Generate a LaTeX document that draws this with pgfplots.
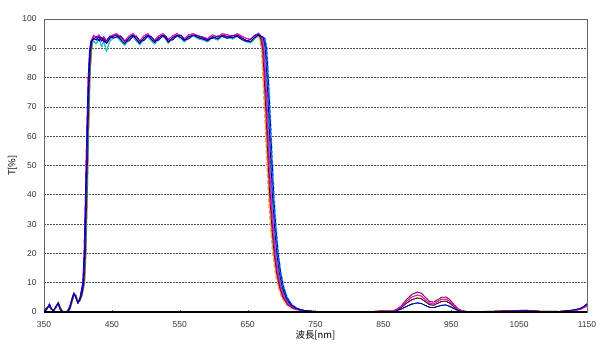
\documentclass[border=0pt]{standalone}
\usepackage{fontspec}
\setmainfont{Liberation Sans}
\newfontfamily\cjk{Noto Sans CJK JP}
\usepackage{pgfplots}
\pgfplotsset{compat=1.18}
\definecolor{cNavy}{HTML}{000080}
\definecolor{cMag}{HTML}{FF00FF}
\definecolor{cCyan}{HTML}{00D8E0}
\definecolor{cPurp}{HTML}{800080}
\definecolor{cDRed}{HTML}{800000}
\definecolor{cTeal}{HTML}{008080}
\definecolor{cBlue}{HTML}{0000FF}
\definecolor{cGreen}{HTML}{339966}
\definecolor{cOrange}{HTML}{FF9900}
\definecolor{cTan}{HTML}{D2B48C}
\definecolor{cLav}{HTML}{CC99FF}
\definecolor{cRed}{HTML}{FF0000}
\definecolor{cSky}{HTML}{33CCFF}
\definecolor{cRose}{HTML}{FF99CC}
\begin{document}
\begin{tikzpicture}
\useasboundingbox (-44bp,-37bp) rectangle (564bp,312bp);
\begin{axis}[
 scale only axis, width=543bp, height=293bp,
 xmin=350, xmax=1150, ymin=0, ymax=100,
 xtick={350,450,...,1150}, ytick={0,10,...,100},
 ymajorgrids, major grid style={dash pattern=on 1.5bp off 1.5bp, black!70, line width=0.6bp},
 axis line style={black!60, line width=0.8bp},
 xtick pos=bottom, xtick align=inside, ytick style={draw=none},
 xtick style={black!60}, major tick length=2.5bp,
 tick label style={font=\fontsize{8.5}{10}\selectfont, text=black!80},
 /pgf/number format/assume math mode=true,
 /pgf/number format/1000 sep={},
 xticklabel style={anchor=center, yshift=-13bp},
 yticklabel style={xshift=-4bp},
 xlabel={\cjk 波長[nm]}, ylabel={\cjk T[\%]},
 xlabel style={at={(axis description cs:0.5,-0.0785)}, anchor=center, font=\fontsize{9.5}{11}\selectfont},
 ylabel style={at={(axis description cs:-0.058,0.5)}, anchor=center, font=\fontsize{9.5}{11}\selectfont},
 every axis plot/.append style={line width=0.75bp, line join=round},
]
% S14 rose: R-1 P1 F0 Nm
\addplot[cRose] coordinates {(350,0)(354,0.8)(358,2.8)(361,1.2)(364,0.2)(368,2.2)(371,2.6)(374,0.8)(377,0)(381,0)(385,0.5)(388,2)(391,4.5)(394,6.6)(397,4.8)(400,3)(403,5)(405,7.5)(407,10)(409,20)(411,40)(413,62)(415,80)(417,89)(419,92.5)
(423,92.5)(427,91.5)(431,93.5)(435,90.5)(438,92.5)(442,89)(447,92.5)(452,93.5)(457,94)(463,92.5)(469,91)(475,93)(481,94)(486,92.5)(491,91.2)(497,93)(503,94)(508,92.6)(513,91.5)(519,93.2)(525,94.2)(529,93.2)(533,91.8)(539,93.2)(546,94.2)(552,93.2)(557,92.2)(563,93.6)(570,94.2)(578,93.2)(585,92.8)(591,92.2)(598,93.6)(606,92.8)(613,94.2)(620,93.6)(628,93.2)(635,94.2)(641,93.2)(648,92.2)(654,91.8)(660,93.2)(666,94.2)
(670,93.5)(673,90)(675,82)(678,68)(681,52)(684,38)(687,28)(690,20)(694,13)(698,8.5)(703,5)(710,2.5)(718,1.2)(730,0.5)(750,0.1)(780,0)
(820,0)(850,0.3)(860,0.3)(868,0.6)(876,1.8)(884,3.6)(892,5.1)(900,5.8)(906,5.4)(912,4.2)(918,3)(924,2.8)(930,3.6)(936,4.3)(942,4.4)(948,3.6)(954,2.1)(960,1)(966,0.35)(975,0.1)(1000,0.1)(1040,0.4)(1060,0.5)(1080,0.2)(1110,0.2)(1130,0.5)(1140,0.9)(1146,1.6)(1150,2.3)};
% S10 tan dashed: R+1 P0 F-3 Nh
\addplot[cTan, line width=1.4bp, dash pattern=on 4bp off 2bp] coordinates {(350,0.5)(354,1.5)(358,1.8)(361,0.8)(364,0.6)(368,1.5)(371,3.4)(374,1.5)(377,0.3)(381,0)(385,0)(388,1)(391,3.5)(394,5.8)(397,5.5)(400,3.2)(403,4)(406,6)(409,10)(411,20)(413,40)(415,62)(417,80)(419,89)(421,92.5)
(423,93.5)(427,92.8)(431,94)(435,92.5)(438,93.4)(442,91.6)(447,93.4)(452,94.1)(457,94.5)(463,93)(469,91.6)(475,93.5)(481,94.5)(486,93.1)(491,91.7)(497,93.5)(503,94.5)(508,93.1)(513,92)(519,93.6)(525,94.5)(529,93.6)(533,92.1)(539,93.6)(546,94.5)(552,93.6)(557,92.6)(563,94)(570,94.5)(578,93.6)(585,93.1)(591,92.6)(598,94)(606,93.2)(613,94.5)(620,94)(628,93.6)(635,94.5)(641,93.6)(648,92.7)(654,92.2)(660,93.6)(666,94.6)
(667,93.5)(670,90)(672,82)(675,68)(678,52)(681,38)(684,28)(687,20)(691,13)(695,8.5)(700,5)(707,2.5)(715,1.2)(727,0.5)(750,0.1)(780,0)
(820,0)(850,0.4)(860,0.2)(868,0.7)(876,2)(884,4.2)(892,6)(900,6.8)(906,6.4)(912,5)(918,3.6)(924,3.4)(930,4.2)(936,5)(942,5.1)(948,4.2)(954,2.5)(960,1.1)(966,0.4)(975,0.1)(1000,0.2)(1040,0.5)(1060,0.6)(1080,0.3)(1110,0.2)(1130,0.5)(1140,0.9)(1146,1.5)(1150,2.2)};
% S11 lavender: R+2 P1 F-2 Nm
\addplot[cLav] coordinates {(350,0.2)(354,1.2)(358,2)(361,1.4)(364,0.3)(368,1.8)(371,3.2)(374,1.2)(377,0.1)(381,0)(385,0)(388,0.8)(391,3)(394,5.5)(397,6)(400,3.5)(403,3.8)(406,5.5)(408,7.5)(410,10)(412,20)(414,40)(416,62)(418,80)(420,89)(422,92.5)
(423,92.5)(427,91.5)(431,93.5)(435,90.5)(438,92.5)(442,89)(447,92.5)(452,93.5)(457,94)(463,92.5)(469,91)(475,93)(481,94)(486,92.5)(491,91.2)(497,93)(503,94)(508,92.6)(513,91.5)(519,93.2)(525,94.2)(529,93.2)(533,91.8)(539,93.2)(546,94.2)(552,93.2)(557,92.2)(563,93.6)(570,94.2)(578,93.2)(585,92.8)(591,92.2)(598,93.6)(606,92.8)(613,94.2)(620,93.6)(628,93.2)(635,94.2)(641,93.2)(648,92.2)(654,91.8)(660,93.2)(666,94.2)
(668,93.5)(671,90)(673,82)(676,68)(679,52)(682,38)(685,28)(688,20)(692,13)(696,8.5)(701,5)(708,2.5)(716,1.2)(728,0.5)(750,0.1)(780,0)
(820,0)(850,0.3)(860,0.3)(868,0.6)(876,1.8)(884,3.6)(892,5.1)(900,5.8)(906,5.4)(912,4.2)(918,3)(924,2.8)(930,3.6)(936,4.3)(942,4.4)(948,3.6)(954,2.1)(960,1)(966,0.35)(975,0.1)(1000,0.1)(1040,0.4)(1060,0.5)(1080,0.2)(1110,0.2)(1130,0.5)(1140,0.9)(1146,1.6)(1150,2.3)};
% S9 orange: R0 P3 F-2 Nh
\addplot[cOrange] coordinates {(350,0.3)(354,1)(358,2.4)(361,1)(364,0.4)(368,2)(371,3)(374,1)(377,0.2)(381,0)(385,0.2)(388,1.5)(391,4)(394,6.3)(397,5)(400,3)(403,4.5)(406,7)(408,10)(410,20)(412,40)(414,62)(416,80)(418,89)(420,92.5)
(423,93)(427,94)(431,92.5)(435,93.8)(438,92.2)(442,92.5)(447,94.2)(452,93.5)(457,93.8)(463,94.2)(469,92.5)(475,92.5)(481,94)(486,94.2)(491,92.5)(497,92.6)(503,94.2)(508,94)(513,92.5)(519,92.8)(525,94.2)(529,94.2)(533,92.8)(539,92.8)(546,94.2)(552,94.5)(557,93)(563,93.2)(570,94.5)(578,94.2)(585,93.5)(591,93)(598,93.4)(606,94.2)(613,94)(620,93.4)(628,94.4)(635,94)(641,93)(648,92.4)(654,93)(660,94.4)(666,94.8)
(668,93.5)(671,90)(673,82)(676,68)(679,52)(682,38)(685,28)(688,20)(692,13)(696,8.5)(701,5)(708,2.5)(716,1.2)(728,0.5)(750,0.1)(780,0)
(820,0)(850,0.4)(860,0.2)(868,0.7)(876,2)(884,4.2)(892,6)(900,6.8)(906,6.4)(912,5)(918,3.6)(924,3.4)(930,4.2)(936,5)(942,5.1)(948,4.2)(954,2.5)(960,1.1)(966,0.4)(975,0.1)(1000,0.2)(1040,0.5)(1060,0.6)(1080,0.3)(1110,0.2)(1130,0.5)(1140,0.9)(1146,1.5)(1150,2.2)};
% S13 sky dashed: R+1 P0 F+6 Nl
\addplot[cSky, dash pattern=on 3bp off 1.5bp] coordinates {(350,0.5)(354,1.5)(358,1.8)(361,0.8)(364,0.6)(368,1.5)(371,3.4)(374,1.5)(377,0.3)(381,0)(385,0)(388,1)(391,3.5)(394,5.8)(397,5.5)(400,3.2)(403,4)(406,6)(409,10)(411,20)(413,40)(415,62)(417,80)(419,89)(421,92.5)
(423,93.5)(427,92.8)(431,94)(435,92.5)(438,93.4)(442,91.6)(447,93.4)(452,94.1)(457,94.5)(463,93)(469,91.6)(475,93.5)(481,94.5)(486,93.1)(491,91.7)(497,93.5)(503,94.5)(508,93.1)(513,92)(519,93.6)(525,94.5)(529,93.6)(533,92.1)(539,93.6)(546,94.5)(552,93.6)(557,92.6)(563,94)(570,94.5)(578,93.6)(585,93.1)(591,92.6)(598,94)(606,93.2)(613,94.5)(620,94)(628,93.6)(635,94.5)(641,93.6)(648,92.7)(654,92.2)(660,93.6)(666,94.6)
(676,93.5)(679,90)(681,82)(684,68)(687,52)(690,38)(693,28)(696,20)(700,13)(704,8.5)(709,5)(716,2.5)(724,1.2)(736,0.5)(756,0.1)(780,0)
(820,0)(850,0.2)(860,0.1)(868,0.3)(876,1)(884,1.9)(892,2.7)(900,3.1)(906,2.9)(912,2.2)(918,1.6)(924,1.5)(930,1.9)(936,2.3)(942,2.4)(948,1.9)(954,1.2)(960,0.5)(966,0.2)(975,0)(1000,0.1)(1040,0.3)(1060,0.4)(1080,0.2)(1110,0.1)(1130,0.7)(1140,1.2)(1146,2)(1150,2.8)};
% S8 green: R+2 P2 F+2 Nm
\addplot[cGreen] coordinates {(350,0.2)(354,1.2)(358,2)(361,1.4)(364,0.3)(368,1.8)(371,3.2)(374,1.2)(377,0.1)(381,0)(385,0)(388,0.8)(391,3)(394,5.5)(397,6)(400,3.5)(403,3.8)(406,5.5)(408,7.5)(410,10)(412,20)(414,40)(416,62)(418,80)(420,89)(422,92.5)
(423,94.5)(427,93.5)(431,94.6)(435,93.2)(438,94)(442,92.5)(447,94)(452,94.6)(457,95)(463,93.8)(469,92.4)(475,94.2)(481,95)(486,93.8)(491,92.5)(497,94.2)(503,95)(508,93.8)(513,92.8)(519,94.2)(525,95)(529,94.2)(533,93)(539,94.2)(546,95)(552,94.2)(557,93.3)(563,94.6)(570,95)(578,94.2)(585,93.8)(591,93.3)(598,94.6)(606,93.8)(613,95)(620,94.6)(628,94.2)(635,95)(641,94.2)(648,93.4)(654,93)(660,94.2)(666,95.2)
(672,93.5)(675,90)(677,82)(680,68)(683,52)(686,38)(689,28)(692,20)(696,13)(700,8.5)(705,5)(712,2.5)(720,1.2)(732,0.5)(752,0.1)(780,0)
(820,0)(850,0.3)(860,0.3)(868,0.6)(876,1.8)(884,3.6)(892,5.1)(900,5.8)(906,5.4)(912,4.2)(918,3)(924,2.8)(930,3.6)(936,4.3)(942,4.4)(948,3.6)(954,2.1)(960,1)(966,0.35)(975,0.1)(1000,0.1)(1040,0.4)(1060,0.5)(1080,0.2)(1110,0.2)(1130,0.5)(1140,0.9)(1146,1.6)(1150,2.3)};
% S12 red: R0 P2 F+1 Nb
\addplot[cRed] coordinates {(350,0.3)(354,1)(358,2.4)(361,1)(364,0.4)(368,2)(371,3)(374,1)(377,0.2)(381,0)(385,0.2)(388,1.5)(391,4)(394,6.3)(397,5)(400,3)(403,4.5)(406,7)(408,10)(410,20)(412,40)(414,62)(416,80)(418,89)(420,92.5)
(423,94.5)(427,93.5)(431,94.6)(435,93.2)(438,94)(442,92.5)(447,94)(452,94.6)(457,95)(463,93.8)(469,92.4)(475,94.2)(481,95)(486,93.8)(491,92.5)(497,94.2)(503,95)(508,93.8)(513,92.8)(519,94.2)(525,95)(529,94.2)(533,93)(539,94.2)(546,95)(552,94.2)(557,93.3)(563,94.6)(570,95)(578,94.2)(585,93.8)(591,93.3)(598,94.6)(606,93.8)(613,95)(620,94.6)(628,94.2)(635,95)(641,94.2)(648,93.4)(654,93)(660,94.2)(666,95.2)
(671,93.5)(674,90)(676,82)(679,68)(682,52)(685,38)(688,28)(691,20)(695,13)(699,8.5)(704,5)(711,2.5)(719,1.2)(731,0.5)(750,0.1)(780,0)
(820,0)(850,0.3)(860,0.2)(868,0.5)(876,1.5)(884,3)(892,4.2)(900,4.8)(906,4.5)(912,3.5)(918,2.5)(924,2.3)(930,3)(936,3.6)(942,3.7)(948,3)(954,1.8)(960,0.8)(966,0.3)(975,0.1)(1000,0.1)(1040,0.4)(1060,0.5)(1080,0.2)(1110,0.2)(1130,0.6)(1140,1)(1146,1.8)(1150,2.5)};
% S6 teal: R0 P1 F+4 Nb
\addplot[cTeal] coordinates {(350,0.3)(354,1)(358,2.4)(361,1)(364,0.4)(368,2)(371,3)(374,1)(377,0.2)(381,0)(385,0.2)(388,1.5)(391,4)(394,6.3)(397,5)(400,3)(403,4.5)(406,7)(408,10)(410,20)(412,40)(414,62)(416,80)(418,89)(420,92.5)
(423,92.5)(427,91.5)(431,93.5)(435,90.5)(438,92.5)(442,89)(447,92.5)(452,93.5)(457,94)(463,92.5)(469,91)(475,93)(481,94)(486,92.5)(491,91.2)(497,93)(503,94)(508,92.6)(513,91.5)(519,93.2)(525,94.2)(529,93.2)(533,91.8)(539,93.2)(546,94.2)(552,93.2)(557,92.2)(563,93.6)(570,94.2)(578,93.2)(585,92.8)(591,92.2)(598,93.6)(606,92.8)(613,94.2)(620,93.6)(628,93.2)(635,94.2)(641,93.2)(648,92.2)(654,91.8)(660,93.2)(666,94.2)
(674,93.5)(677,90)(679,82)(682,68)(685,52)(688,38)(691,28)(694,20)(698,13)(702,8.5)(707,5)(714,2.5)(722,1.2)(734,0.5)(754,0.1)(780,0)
(820,0)(850,0.3)(860,0.2)(868,0.5)(876,1.5)(884,3)(892,4.2)(900,4.8)(906,4.5)(912,3.5)(918,2.5)(924,2.3)(930,3)(936,3.6)(942,3.7)(948,3)(954,1.8)(960,0.8)(966,0.3)(975,0.1)(1000,0.1)(1040,0.4)(1060,0.5)(1080,0.2)(1110,0.2)(1130,0.6)(1140,1)(1146,1.8)(1150,2.5)};
% S3 cyan: R+1 P1 F+2 Nl
\addplot[cCyan] coordinates {(350,0.5)(354,1.5)(358,1.8)(361,0.8)(364,0.6)(368,1.5)(371,3.4)(374,1.5)(377,0.3)(381,0)(385,0)(388,1)(391,3.5)(394,5.8)(397,5.5)(400,3.2)(403,4)(406,6)(409,10)(411,20)(413,40)(415,62)(417,80)(419,89)(421,92.5)
(423,92.5)(427,91.5)(431,93.5)(435,90.5)(438,92.5)(442,89)(447,92.5)(452,93.5)(457,94)(463,92.5)(469,91)(475,93)(481,94)(486,92.5)(491,91.2)(497,93)(503,94)(508,92.6)(513,91.5)(519,93.2)(525,94.2)(529,93.2)(533,91.8)(539,93.2)(546,94.2)(552,93.2)(557,92.2)(563,93.6)(570,94.2)(578,93.2)(585,92.8)(591,92.2)(598,93.6)(606,92.8)(613,94.2)(620,93.6)(628,93.2)(635,94.2)(641,93.2)(648,92.2)(654,91.8)(660,93.2)(666,94.2)
(672,93.5)(675,90)(677,82)(680,68)(683,52)(686,38)(689,28)(692,20)(696,13)(700,8.5)(705,5)(712,2.5)(720,1.2)(732,0.5)(752,0.1)(780,0)
(820,0)(850,0.2)(860,0.1)(868,0.3)(876,1)(884,1.9)(892,2.7)(900,3.1)(906,2.9)(912,2.2)(918,1.6)(924,1.5)(930,1.9)(936,2.3)(942,2.4)(948,1.9)(954,1.2)(960,0.5)(966,0.2)(975,0)(1000,0.1)(1040,0.3)(1060,0.4)(1080,0.2)(1110,0.1)(1130,0.7)(1140,1.2)(1146,2)(1150,2.8)};
% S5 dark red: R+1 P0 F-1 Nb
\addplot[cDRed] coordinates {(350,0.5)(354,1.5)(358,1.8)(361,0.8)(364,0.6)(368,1.5)(371,3.4)(374,1.5)(377,0.3)(381,0)(385,0)(388,1)(391,3.5)(394,5.8)(397,5.5)(400,3.2)(403,4)(406,6)(409,10)(411,20)(413,40)(415,62)(417,80)(419,89)(421,92.5)
(423,93.5)(427,92.8)(431,94)(435,92.5)(438,93.4)(442,91.6)(447,93.4)(452,94.1)(457,94.5)(463,93)(469,91.6)(475,93.5)(481,94.5)(486,93.1)(491,91.7)(497,93.5)(503,94.5)(508,93.1)(513,92)(519,93.6)(525,94.5)(529,93.6)(533,92.1)(539,93.6)(546,94.5)(552,93.6)(557,92.6)(563,94)(570,94.5)(578,93.6)(585,93.1)(591,92.6)(598,94)(606,93.2)(613,94.5)(620,94)(628,93.6)(635,94.5)(641,93.6)(648,92.7)(654,92.2)(660,93.6)(666,94.6)
(669,93.5)(672,90)(674,82)(677,68)(680,52)(683,38)(686,28)(689,20)(693,13)(697,8.5)(702,5)(709,2.5)(717,1.2)(729,0.5)(750,0.1)(780,0)
(820,0)(850,0.3)(860,0.2)(868,0.5)(876,1.5)(884,3)(892,4.2)(900,4.8)(906,4.5)(912,3.5)(918,2.5)(924,2.3)(930,3)(936,3.6)(942,3.7)(948,3)(954,1.8)(960,0.8)(966,0.3)(975,0.1)(1000,0.1)(1040,0.4)(1060,0.5)(1080,0.2)(1110,0.2)(1130,0.6)(1140,1)(1146,1.8)(1150,2.5)};
% S4 purple: R0 P3 F0 Nh
\addplot[cPurp] coordinates {(350,0.3)(354,1)(358,2.4)(361,1)(364,0.4)(368,2)(371,3)(374,1)(377,0.2)(381,0)(385,0.2)(388,1.5)(391,4)(394,6.3)(397,5)(400,3)(403,4.5)(406,7)(408,10)(410,20)(412,40)(414,62)(416,80)(418,89)(420,92.5)
(423,93)(427,94)(431,92.5)(435,93.8)(438,92.2)(442,92.5)(447,94.2)(452,93.5)(457,93.8)(463,94.2)(469,92.5)(475,92.5)(481,94)(486,94.2)(491,92.5)(497,92.6)(503,94.2)(508,94)(513,92.5)(519,92.8)(525,94.2)(529,94.2)(533,92.8)(539,92.8)(546,94.2)(552,94.5)(557,93)(563,93.2)(570,94.5)(578,94.2)(585,93.5)(591,93)(598,93.4)(606,94.2)(613,94)(620,93.4)(628,94.4)(635,94)(641,93)(648,92.4)(654,93)(660,94.4)(666,94.8)
(670,93.5)(673,90)(675,82)(678,68)(681,52)(684,38)(687,28)(690,20)(694,13)(698,8.5)(703,5)(710,2.5)(718,1.2)(730,0.5)(750,0.1)(780,0)
(820,0)(850,0.4)(860,0.2)(868,0.7)(876,2)(884,4.2)(892,6)(900,6.8)(906,6.4)(912,5)(918,3.6)(924,3.4)(930,4.2)(936,5)(942,5.1)(948,4.2)(954,2.5)(960,1.1)(966,0.4)(975,0.1)(1000,0.2)(1040,0.5)(1060,0.6)(1080,0.3)(1110,0.2)(1130,0.5)(1140,0.9)(1146,1.5)(1150,2.2)};
% S2 magenta: R-1 P2 F+1 Nm
\addplot[cMag] coordinates {(350,0)(354,0.8)(358,2.8)(361,1.2)(364,0.2)(368,2.2)(371,2.6)(374,0.8)(377,0)(381,0)(385,0.5)(388,2)(391,4.5)(394,6.6)(397,4.8)(400,3)(403,5)(405,7.5)(407,10)(409,20)(411,40)(413,62)(415,80)(417,89)(419,92.5)
(423,94.5)(427,93.5)(431,94.6)(435,93.2)(438,94)(442,92.5)(447,94)(452,94.6)(457,95)(463,93.8)(469,92.4)(475,94.2)(481,95)(486,93.8)(491,92.5)(497,94.2)(503,95)(508,93.8)(513,92.8)(519,94.2)(525,95)(529,94.2)(533,93)(539,94.2)(546,95)(552,94.2)(557,93.3)(563,94.6)(570,95)(578,94.2)(585,93.8)(591,93.3)(598,94.6)(606,93.8)(613,95)(620,94.6)(628,94.2)(635,95)(641,94.2)(648,93.4)(654,93)(660,94.2)(666,95.2)
(671,93.5)(674,90)(676,82)(679,68)(682,52)(685,38)(688,28)(691,20)(695,13)(699,8.5)(704,5)(711,2.5)(719,1.2)(731,0.5)(750,0.1)(780,0)
(820,0)(850,0.3)(860,0.3)(868,0.6)(876,1.8)(884,3.6)(892,5.1)(900,5.8)(906,5.4)(912,4.2)(918,3)(924,2.8)(930,3.6)(936,4.3)(942,4.4)(948,3.6)(954,2.1)(960,1)(966,0.35)(975,0.1)(1000,0.1)(1040,0.4)(1060,0.5)(1080,0.2)(1110,0.2)(1130,0.5)(1140,0.9)(1146,1.6)(1150,2.3)};
% S7 blue: R-1 P3 F+5 Nl
\addplot[cBlue] coordinates {(350,0)(354,0.8)(358,2.8)(361,1.2)(364,0.2)(368,2.2)(371,2.6)(374,0.8)(377,0)(381,0)(385,0.5)(388,2)(391,4.5)(394,6.6)(397,4.8)(400,3)(403,5)(405,7.5)(407,10)(409,20)(411,40)(413,62)(415,80)(417,89)(419,92.5)
(423,93)(427,94)(431,92.5)(435,93.8)(438,92.2)(442,92.5)(447,94.2)(452,93.5)(457,93.8)(463,94.2)(469,92.5)(475,92.5)(481,94)(486,94.2)(491,92.5)(497,92.6)(503,94.2)(508,94)(513,92.5)(519,92.8)(525,94.2)(529,94.2)(533,92.8)(539,92.8)(546,94.2)(552,94.5)(557,93)(563,93.2)(570,94.5)(578,94.2)(585,93.5)(591,93)(598,93.4)(606,94.2)(613,94)(620,93.4)(628,94.4)(635,94)(641,93)(648,92.4)(654,93)(660,94.4)(666,94.8)
(675,93.5)(678,90)(680,82)(683,68)(686,52)(689,38)(692,28)(695,20)(699,13)(703,8.5)(708,5)(715,2.5)(723,1.2)(735,0.5)(755,0.1)(780,0)
(820,0)(850,0.2)(860,0.1)(868,0.3)(876,1)(884,1.9)(892,2.7)(900,3.1)(906,2.9)(912,2.2)(918,1.6)(924,1.5)(930,1.9)(936,2.3)(942,2.4)(948,1.9)(954,1.2)(960,0.5)(966,0.2)(975,0)(1000,0.1)(1040,0.3)(1060,0.4)(1080,0.2)(1110,0.1)(1130,0.7)(1140,1.2)(1146,2)(1150,2.8)};
% S1 navy: R0 P0 F+3 Nl
\addplot[cNavy] coordinates {(350,0.3)(354,1)(358,2.4)(361,1)(364,0.4)(368,2)(371,3)(374,1)(377,0.2)(381,0)(385,0.2)(388,1.5)(391,4)(394,6.3)(397,5)(400,3)(403,4.5)(406,7)(408,10)(410,20)(412,40)(414,62)(416,80)(418,89)(420,92.5)
(423,93.5)(427,92.8)(431,94)(435,92.5)(438,93.4)(442,91.6)(447,93.4)(452,94.1)(457,94.5)(463,93)(469,91.6)(475,93.5)(481,94.5)(486,93.1)(491,91.7)(497,93.5)(503,94.5)(508,93.1)(513,92)(519,93.6)(525,94.5)(529,93.6)(533,92.1)(539,93.6)(546,94.5)(552,93.6)(557,92.6)(563,94)(570,94.5)(578,93.6)(585,93.1)(591,92.6)(598,94)(606,93.2)(613,94.5)(620,94)(628,93.6)(635,94.5)(641,93.6)(648,92.7)(654,92.2)(660,93.6)(666,94.6)
(673,93.5)(676,90)(678,82)(681,68)(684,52)(687,38)(690,28)(693,20)(697,13)(701,8.5)(706,5)(713,2.5)(721,1.2)(733,0.5)(753,0.1)(780,0)
(820,0)(850,0.2)(860,0.1)(868,0.3)(876,1)(884,1.9)(892,2.7)(900,3.1)(906,2.9)(912,2.2)(918,1.6)(924,1.5)(930,1.9)(936,2.3)(942,2.4)(948,1.9)(954,1.2)(960,0.5)(966,0.2)(975,0)(1000,0.1)(1040,0.3)(1060,0.4)(1080,0.2)(1110,0.1)(1130,0.7)(1140,1.2)(1146,2)(1150,2.8)};
% baseline series at 0
\addplot[black, line width=1.3bp] coordinates {(350,0)(1150,0)};
\end{axis}
\end{tikzpicture}
\end{document}
